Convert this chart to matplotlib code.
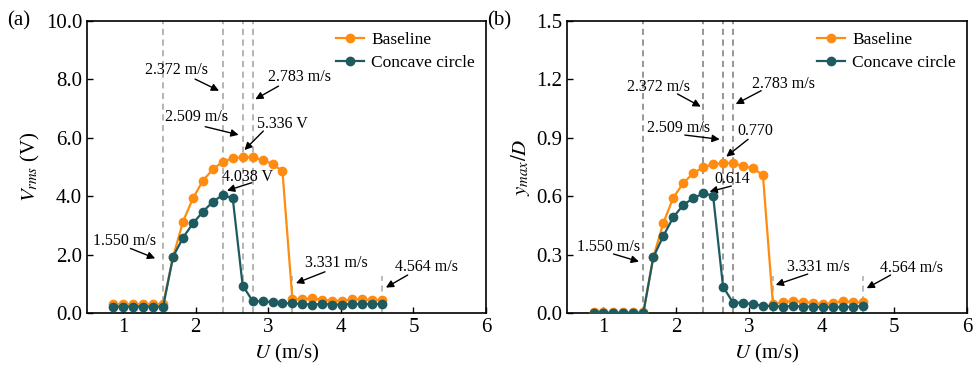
import matplotlib
matplotlib.use("Agg")
import matplotlib.pyplot as plt

plt.rcParams["font.family"] = ["Liberation Serif", "DejaVu Serif"]
plt.rcParams["mathtext.fontset"] = "stix"

# flow speed U (m/s)
speed = [0.865, 1.002, 1.139, 1.276, 1.413, 1.550, 1.687, 1.824, 1.961, 2.098,
         2.235, 2.372, 2.509, 2.646, 2.783, 2.920, 3.057, 3.194, 3.331, 3.468,
         3.605, 3.742, 3.879, 4.016, 4.153, 4.290, 4.427, 4.564]

# (a) Vrms (V)
vrms_base = [0.30, 0.30, 0.30, 0.30, 0.30, 0.31, 1.93, 3.13, 3.93, 4.53,
             4.92, 5.18, 5.30, 5.336, 5.33, 5.24, 5.10, 4.86, 0.47, 0.47,
             0.51, 0.45, 0.42, 0.41, 0.47, 0.47, 0.45, 0.45]
vrms_conc = [0.22, 0.22, 0.22, 0.22, 0.22, 0.22, 1.93, 2.58, 3.07, 3.47,
             3.81, 4.038, 3.93, 0.94, 0.41, 0.40, 0.37, 0.34, 0.33, 0.31,
             0.29, 0.31, 0.29, 0.29, 0.31, 0.31, 0.31, 0.31]

# (b) ymax/D
ymax_base = [0.003, 0.003, 0.003, 0.003, 0.003, 0.003, 0.286, 0.461, 0.592, 0.666,
             0.718, 0.748, 0.764, 0.770, 0.769, 0.755, 0.743, 0.709, 0.048, 0.055,
             0.062, 0.058, 0.050, 0.046, 0.050, 0.062, 0.055, 0.055]
ymax_conc = [0.0, 0.0, 0.0, 0.0, 0.0, 0.0, 0.286, 0.395, 0.491, 0.555,
             0.589, 0.614, 0.603, 0.135, 0.053, 0.053, 0.045, 0.038, 0.035, 0.033,
             0.036, 0.033, 0.033, 0.030, 0.033, 0.030, 0.033, 0.036]

full_lines = [1.550, 2.372, 2.646, 2.783]
short_lines = [3.331, 4.564]

ORANGE = "#FF8C10"
TEAL = "#1D5B61"

# text, text pos, ha, arrow tail, arrow head
notes_a = [
    ("2.372 m/s", (1.73, 8.32), "center", (1.99, 8.01), (2.32, 7.61)),
    ("2.783 m/s", (2.99, 8.08), "left", (3.14, 7.77), (2.82, 7.32)),
    ("2.509 m/s", (2.01, 6.71), "center", (2.13, 6.38), (2.59, 6.10)),
    ("5.336 V", (2.85, 6.47), "left", (2.93, 6.23), (2.67, 5.58)),
    ("4.038 V", (2.36, 4.65), "left", (2.77, 4.46), (2.43, 4.19)),
    ("1.550 m/s", (1.02, 2.48), "center", (1.10, 2.21), (1.44, 1.87)),
    ("3.331 m/s", (3.51, 1.70), "left", (3.78, 1.41), (3.38, 1.02)),
    ("4.564 m/s", (4.75, 1.56), "left", (4.92, 1.30), (4.62, 0.87)),
]
notes_b = [
    ("2.372 m/s", (1.76, 1.162), "center", (2.02, 1.125), (2.34, 1.06)),
    ("2.783 m/s", (3.05, 1.176), "left", (3.17, 1.142), (2.82, 1.073)),
    ("2.509 m/s", (2.04, 0.952), "center", (2.12, 0.914), (2.60, 0.892)),
    ("0.770", (2.84, 0.936), "left", (2.99, 0.892), (2.69, 0.803)),
    ("0.614", (2.52, 0.687), "left", (2.76, 0.652), (2.46, 0.623)),
    ("1.550 m/s", (1.07, 0.337), "center", (1.14, 0.303), (1.49, 0.264)),
    ("3.331 m/s", (3.52, 0.238), "left", (3.81, 0.200), (3.37, 0.144)),
    ("4.564 m/s", (4.80, 0.230), "left", (4.95, 0.195), (4.62, 0.127)),
]


def draw_panel(ax, base, conc, notes, ylim, yticks, yfmt, ylabel, tag, line_col):
    for x in full_lines:
        ax.axvline(x, color=line_col, lw=1.1, ls=(0, (4, 3)), zorder=1)
    for x in short_lines:
        ax.axvline(x, ymax=0.125, color="#a8a8a8", lw=1.1, ls=(0, (4, 3)), zorder=1)

    ax.plot(speed, base, "-o", color=ORANGE, lw=1.6, ms=6, label="Baseline", zorder=3)
    ax.plot(speed, conc, "-o", color=TEAL, lw=1.6, ms=6, label="Concave circle", zorder=4)

    for txt, pos, ha, tail, head in notes:
        ax.text(pos[0], pos[1], txt, ha=ha, va="center", fontsize=11.5, zorder=5)
        ax.annotate("", xy=head, xytext=tail,
                    arrowprops=dict(arrowstyle="-|>", color="black", lw=1.0,
                                    mutation_scale=11, shrinkA=0, shrinkB=0))

    ax.set_xlim(0.5, 6)
    ax.set_xticks([1, 2, 3, 4, 5, 6])
    ax.set_ylim(*ylim)
    ax.set_yticks(yticks)
    ax.set_yticklabels([yfmt.format(v) for v in yticks])
    ax.tick_params(direction="in", labelsize=15, length=4, width=1)
    for sp in ax.spines.values():
        sp.set_linewidth(1.2)
    ax.set_xlabel("$U$ (m/s)", fontsize=15, labelpad=4)
    ax.set_ylabel(ylabel, fontsize=15, labelpad=3)
    ax.legend(loc="upper right", frameon=False, fontsize=12.5, handlelength=1.6,
              handletextpad=0.4, borderaxespad=0.25, labelspacing=0.35)
    ax.text(-0.2, 1.0, tag, transform=ax.transAxes, fontsize=15, ha="left", va="center")


fig = plt.figure(figsize=(9.75, 3.68), dpi=100)
ax1 = fig.add_axes([0.0892, 0.1495, 0.4093, 0.7935])
ax2 = fig.add_axes([0.5815, 0.1495, 0.4103, 0.7935])

draw_panel(ax1, vrms_base, vrms_conc, notes_a, (0, 10), [0, 2, 4, 6, 8, 10], "{:.1f}",
           "$V_{rms}$ (V)", "(a)", "#a0a0a0")
draw_panel(ax2, ymax_base, ymax_conc, notes_b, (0, 1.5), [0, 0.3, 0.6, 0.9, 1.2, 1.5], "{:.1f}",
           "$y_{max}/D$", "(b)", "#7a7a7a")

fig.savefig("out.png", dpi=100)
